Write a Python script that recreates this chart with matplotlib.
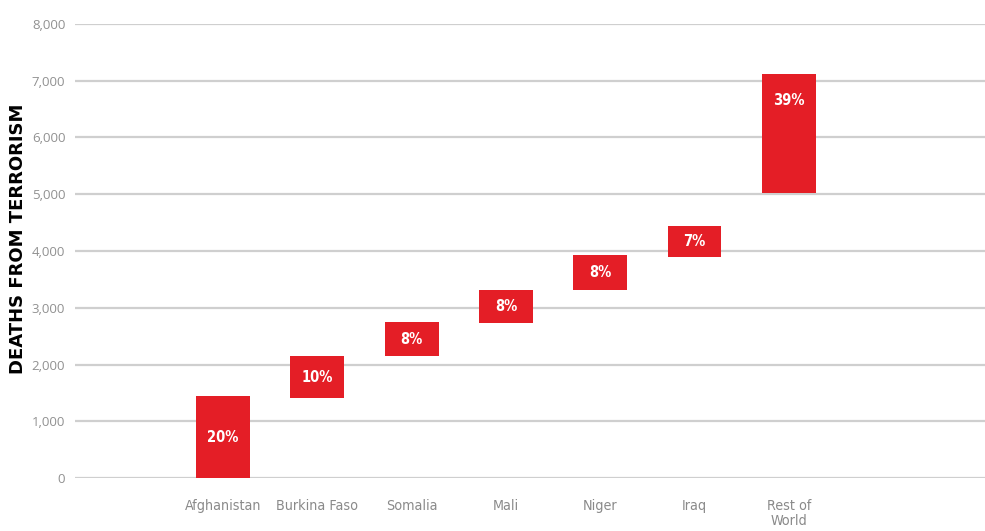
import matplotlib.pyplot as plt
from matplotlib.ticker import FuncFormatter

# waterfall: each country's bar runs from its base to its top
countries = ["Afghanistan", "Burkina Faso", "Somalia", "Mali", "Niger", "Iraq", "Rest of\nWorld"]
bases = [0, 1410, 2148, 2724, 3310, 3891, 5023]
tops = [1444, 2146, 2746, 3310, 3926, 4437, 7125]
shares = ["20%", "10%", "8%", "8%", "8%", "7%", "39%"]
yticks = [0, 1000, 2000, 3000, 4000, 5000, 6000, 7000, 8000]

red = "#e41e26"
grey = "#8a8a8a"
narrow = ["Liberation Sans Narrow", "DejaVu Sans"]

fig = plt.figure(figsize=(9.85, 5.31), dpi=100)
ax = fig.add_axes([75 / 985, 53 / 531, 910 / 985, 454 / 531])

x = list(range(len(countries)))
heights = [t - b for t, b in zip(tops, bases)]
ax.bar(x, heights, bottom=bases, width=0.57, color=red, zorder=3)

for i in x:
    h = heights[i]
    ylab = bases[i] + h / 2 if h < 1500 else tops[i] - 470
    ax.text(i, ylab, shares[i], ha="center", va="center", color="white",
            fontsize=10.5, fontweight="bold", family=narrow, fontstretch="condensed", zorder=4)

ax.set_xlim(-1.57, 8.08)
ax.set_ylim(0, 8000)
ax.set_yticks(yticks)
ax.yaxis.set_major_formatter(FuncFormatter(lambda v, p: f"{int(v):,}"))
ax.set_xticks(x)
ax.set_xticklabels(countries, color=grey, fontsize=10.3, family=narrow, fontstretch="condensed",
                   va="top", linespacing=1.1)
ax.tick_params(axis="x", length=0, pad=15)
ax.tick_params(axis="y", length=0, pad=7, labelcolor="#919191", labelsize=9.5)
for lab in ax.get_yticklabels():
    lab.set_family(["Open Sans", "DejaVu Sans"])

ax.grid(axis="y", color="#cfcfcf", linewidth=1.6, zorder=0)
for s in ax.spines.values():
    s.set_visible(False)

fig.text(18 / 985, 1 - 239 / 531, "DEATHS FROM TERRORISM", rotation=90, ha="center", va="center",
         fontsize=13, fontweight="heavy", color="black", family=["DejaVu Sans"])

plt.savefig("out.png", dpi=100)
